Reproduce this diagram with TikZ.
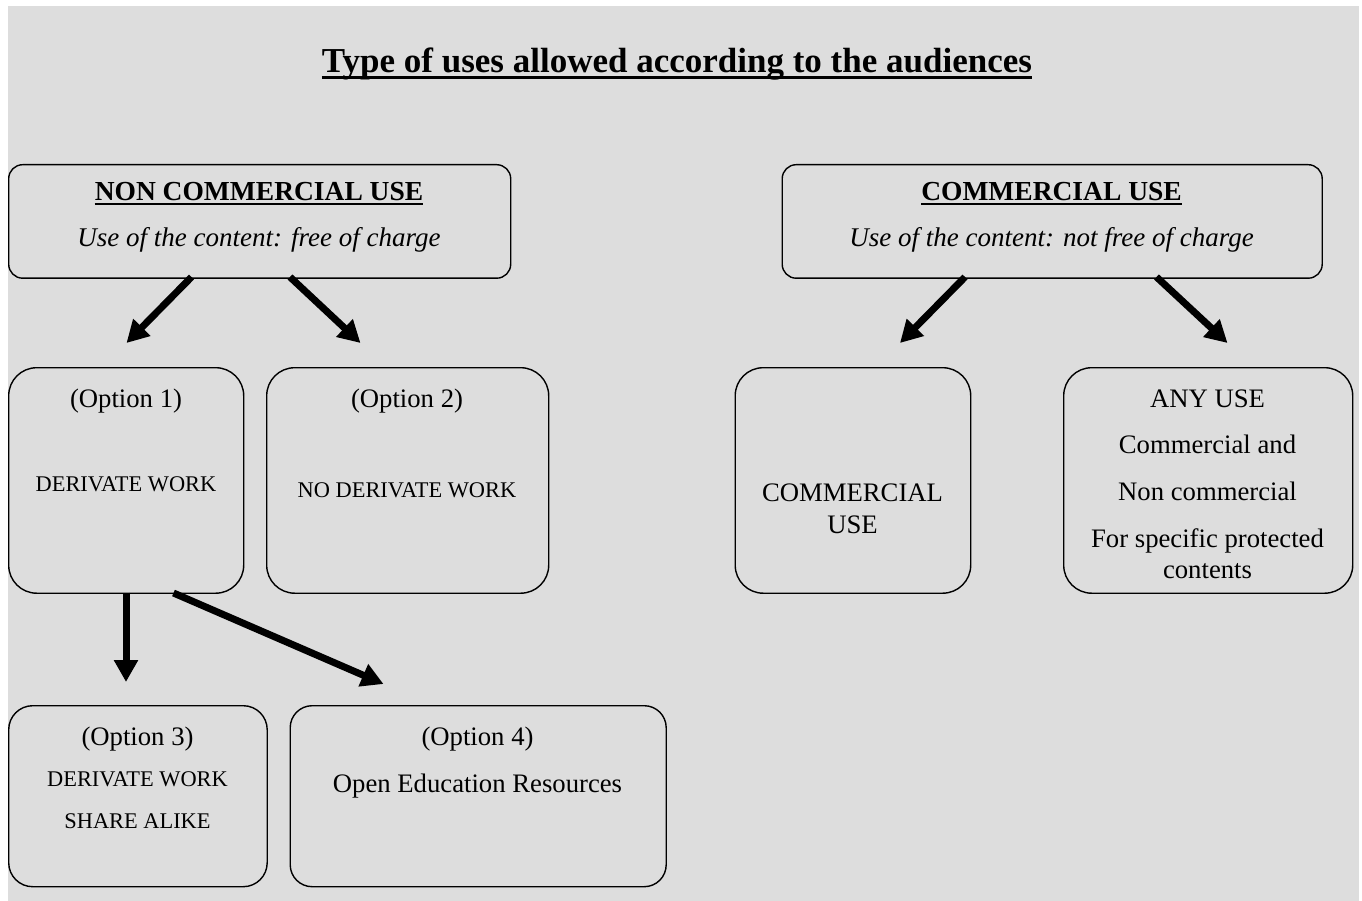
\documentclass[tikz,border=0pt]{standalone}
\usepackage{fontspec}
\setmainfont{Liberation Serif}
\usetikzlibrary{arrows.meta}
\definecolor{bggray}{RGB}{221,221,221}
\newcommand\fstitle{\fontsize{35pt}{40pt}\selectfont\bfseries}
\newcommand\fshead{\fontsize{27.5pt}{32pt}\selectfont\bfseries}
\newcommand\fsital{\fontsize{27pt}{32pt}\selectfont\itshape}
\newcommand\fsreg{\fontsize{26.7pt}{31pt}\selectfont}
\newcommand\fssmall{\fontsize{22.4pt}{26pt}\selectfont}
\begin{document}
\begin{tikzpicture}[x=1pt,y=-1pt,
  box/.style={draw=black, line width=1.4pt, rounded corners=#1, inner sep=0pt,
              anchor=north west, fill=none},
  box/.default=28pt,
  txt/.style={inner sep=0pt, anchor=base, text=black},
  regt/.style={txt, font=\fsreg},
  smallt/.style={txt, font=\fssmall},
  headt/.style={txt, font=\fshead},
  italt/.style={txt, font=\fsital},
  uline/.style={line width=#1, line cap=butt},
  bigarrow/.style={line width=7pt, line cap=butt,
                   -{Triangle[length=22pt,width=23pt]}}
]
\useasboundingbox (0,0) rectangle (1362,901);
\fill[white] (0,0) rectangle (1362,901);
\fill[bggray] (8,6) rectangle (1359,901);

% title
\node[txt, font=\fstitle] (title) at (677,73) {Type of uses allowed according to the audiences};
\draw[uline=3.5pt] ([yshift=-4.5pt]title.base west) -- ([yshift=-4.5pt]title.base east);

% top boxes
\node[box=14pt, minimum width=502pt, minimum height=113.5pt] (nc) at (8,164) {};
\node[headt] (ncT) at (259,201) {NON COMMERCIAL USE};
\draw[uline=2pt] ([yshift=-3.5pt]ncT.base west) -- ([yshift=-3.5pt]ncT.base east);
\node[italt] (ncS) at (259,247) {Use of the content: free of charge};

\node[box=14pt, minimum width=540pt, minimum height=113.5pt] (cm) at (781.5,164) {};
\node[headt] (cmT) at (1051.5,201) {COMMERCIAL USE};
\draw[uline=2pt] ([yshift=-3.5pt]cmT.base west) -- ([yshift=-3.5pt]cmT.base east);
\node[italt] (cmS) at (1051.5,247) {Use of the content: not free of charge};

% second row
\node[box, minimum width=235pt, minimum height=225.5pt] (op1) at (8,367) {};
\node[regt] (op1a) at (126,407.5) {(Option 1)};
\node[smallt] (op1b) at (126,491.7) {DERIVATE WORK};

\node[box, minimum width=282pt, minimum height=225.5pt] (op2) at (266,367) {};
\node[regt] (op2a) at (407,407.5) {(Option 2)};
\node[smallt] (op2b) at (407,497.5) {NO DERIVATE WORK};

\node[box, minimum width=235.5pt, minimum height=225.5pt] (cu) at (734.5,367) {};
\node[regt] (cua) at (852.5,501) {COMMERCIAL};
\node[regt] (cub) at (852.5,533) {USE};

\node[box, minimum width=289pt, minimum height=225.5pt] (au) at (1063,367) {};
\node[regt] (aua) at (1207.5,407) {ANY USE};
\node[regt] (aub) at (1207.5,453.5) {Commercial and};
\node[regt] (auc) at (1207.5,500.5) {Non commercial};
\node[regt] (aud) at (1207.5,547) {For specific protected};
\node[regt] (aue) at (1207.5,578.5) {contents};

% third row
\node[box=24pt, minimum width=258.5pt, minimum height=181pt] (op3) at (8,705) {};
\node[regt] (op3a) at (137.5,745) {(Option 3)};
\node[smallt] (op3b) at (137.5,786.5) {DERIVATE WORK};
\node[smallt] (op3c) at (137.5,828.5) {SHARE ALIKE};

\node[box=22pt, minimum width=376pt, minimum height=181pt] (op4) at (289.5,705) {};
\node[regt] (op4a) at (477.5,745) {(Option 4)};
\node[regt] (op4b) at (477.5,792) {Open Education Resources};

% arrow end points
\coordinate (a1s) at (191.5,277);  \coordinate (a1e) at (126.5,343);
\coordinate (a2s) at (290,277);    \coordinate (a2e) at (360.5,343);
\coordinate (a3s) at (965,277);    \coordinate (a3e) at (900,343);
\coordinate (a4s) at (1156.5,277); \coordinate (a4e) at (1227.5,343);
\coordinate (a5s) at (126,592.5);  \coordinate (a5e) at (126,682);
\coordinate (a6s) at (173.5,593);  \coordinate (a6e) at (383.5,684);

\draw[bigarrow] (a1s) -- (a1e);
\draw[bigarrow] (a2s) -- (a2e);
\draw[bigarrow] (a3s) -- (a3e);
\draw[bigarrow] (a4s) -- (a4e);
\draw[bigarrow] (a5s) -- (a5e);
\draw[bigarrow] (a6s) -- (a6e);
\end{tikzpicture}
\end{document}
